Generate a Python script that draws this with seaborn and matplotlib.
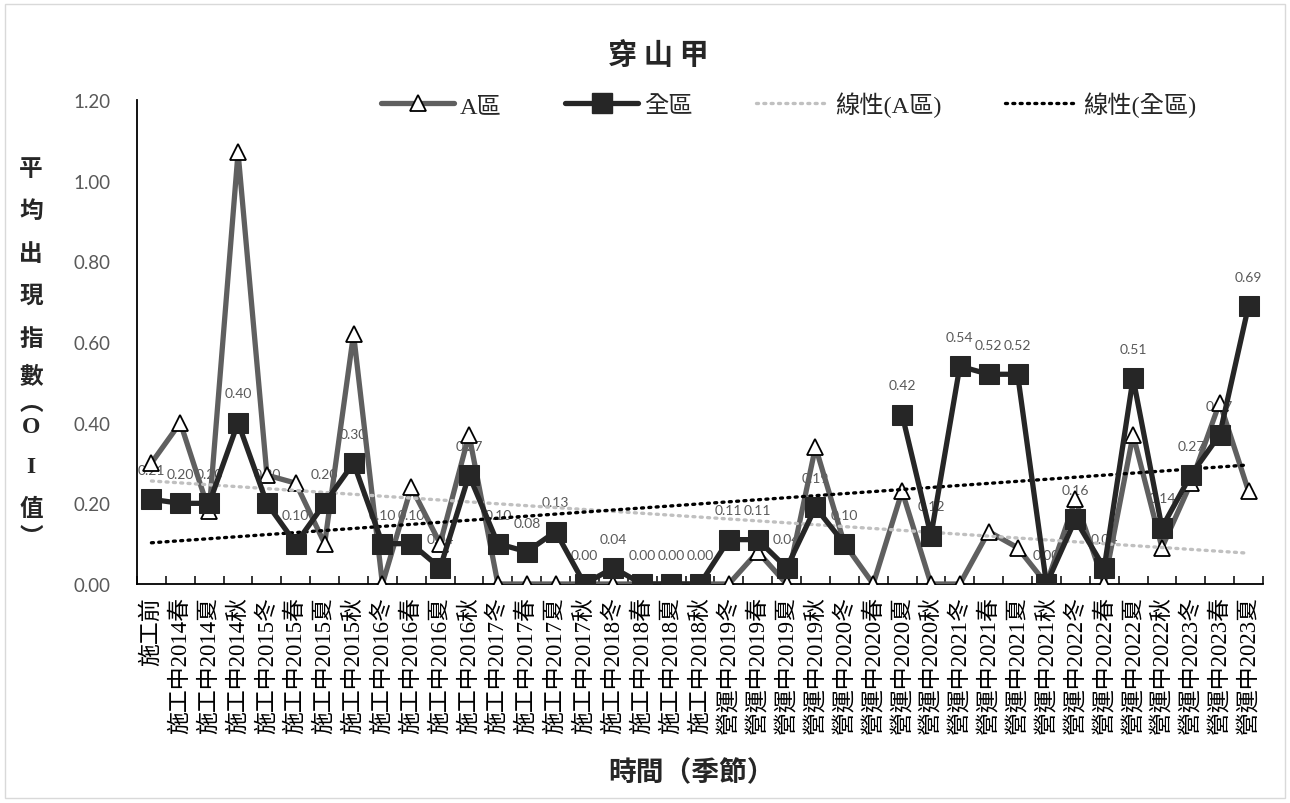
import numpy as np
import pandas as pd
import matplotlib
matplotlib.use('Agg')
import matplotlib.pyplot as plt
from matplotlib.lines import Line2D
from matplotlib.patches import Rectangle
import seaborn as sns

sns.set_theme(style='white')
plt.rcParams['font.family'] = ['Liberation Serif', 'Noto Sans CJK TC', 'DejaVu Sans']

seasons = ['施工前',
           '施工中2014春', '施工中2014夏', '施工中2014秋', '施工中2015冬', '施工中2015春',
           '施工中2015夏', '施工中2015秋', '施工中2016冬', '施工中2016春', '施工中2016夏',
           '施工中2016秋', '施工中2017冬', '施工中2017春', '施工中2017夏', '施工中2017秋',
           '施工中2018冬', '施工中2018春', '施工中2018夏', '施工中2018秋',
           '營運中2019冬', '營運中2019春', '營運中2019夏', '營運中2019秋', '營運中2020冬',
           '營運中2020春', '營運中2020夏', '營運中2020秋', '營運中2021冬', '營運中2021春',
           '營運中2021夏', '營運中2021秋', '營運中2022冬', '營運中2022春', '營運中2022夏',
           '營運中2022秋', '營運中2023冬', '營運中2023春', '營運中2023夏']

area_a = [0.30, 0.40, 0.18, 1.07, 0.27, 0.25, 0.10, 0.62, 0.00, 0.24,
          0.10, 0.37, 0.00, 0.00, 0.00, 0.00, 0.00, 0.00, 0.00, 0.00,
          0.00, 0.08, 0.00, 0.34, 0.10, 0.00, 0.23, 0.00, 0.00, 0.13,
          0.09, 0.00, 0.21, 0.00, 0.37, 0.09, 0.25, 0.45, 0.23]

area_all = [0.21, 0.20, 0.20, 0.40, 0.20, 0.10, 0.20, 0.30, 0.10, 0.10,
            0.04, 0.27, 0.10, 0.08, 0.13, 0.00, 0.04, 0.00, 0.00, 0.00,
            0.11, 0.11, 0.04, 0.19, 0.10, np.nan, 0.42, 0.12, 0.54, 0.52,
            0.52, 0.00, 0.16, 0.04, 0.51, 0.14, 0.27, 0.37, 0.69]

x = np.arange(len(seasons))
df = pd.DataFrame({'x': x, 'a': area_a, 'all': area_all})
# 全區 has a gap (2020春), split into segments so the line breaks there
df['seg'] = df['all'].isna().cumsum()
df_all = df.dropna(subset=['all'])

fig = plt.figure(figsize=(12.9, 8.04), dpi=100)
ax = fig.add_axes([137/1290, 1-585/804, (1263-137)/1290, (585-101)/804])

gray_line = '#5f5f5f'
dark = '#262626'
label_font = ['Liberation Serif', 'Noto Sans CJK TC']

# data labels for 全區 (under the lines)
for xi, v in zip(df_all['x'], df_all['all']):
    ax.annotate(f'{v:.2f}', (xi, v), xytext=(0, 21), textcoords='offset points',
                ha='center', va='center', fontsize=10, color='#595959',
                family=['Lato', 'DejaVu Sans'], zorder=2)

sns.lineplot(data=df, x='x', y='a', ax=ax, color=gray_line, lw=3.8,
             marker='^', markersize=12, markerfacecolor='white',
             markeredgecolor='black', markeredgewidth=1.3, zorder=3)

sns.regplot(data=df, x='x', y='a', ax=ax, scatter=False, ci=None,
            line_kws=dict(color='#c0c0c0', lw=2.4, ls=(0, (0.6, 1.6)),
                          dash_capstyle='round', zorder=4))
sns.regplot(data=df_all, x='x', y='all', ax=ax, scatter=False, ci=None,
            line_kws=dict(color='black', lw=2.4, ls=(0, (0.6, 1.6)),
                          dash_capstyle='round', zorder=4))

sns.lineplot(data=df_all, x='x', y='all', units='seg', estimator=None, ax=ax,
             color=dark, lw=3.8, marker='s', markersize=15,
             markerfacecolor=dark, markeredgecolor=dark, zorder=5)

ax.set_xlim(-0.5, len(seasons) - 0.5)
ax.set_ylim(0, 1.2)
ax.set_xlabel('')
ax.set_ylabel('')

ax.set_xticks(x)
ax.set_xticklabels(seasons, rotation=90, fontsize=16.5, family=label_font)
ax.set_xticks(np.arange(-0.5, len(seasons), 1), minor=True)
ax.tick_params(axis='x', which='major', length=0, pad=9, colors='black')
ax.tick_params(axis='x', which='minor', direction='in', length=6, width=1.1,
               color='black', bottom=True)

ax.set_yticks(np.arange(0, 1.21, 0.2))
ax.set_yticklabels([f'{v:.2f}' for v in np.arange(0, 1.21, 0.2)],
                   fontsize=13.5, color='#595959', family=['Lato', 'DejaVu Sans'])
ax.tick_params(axis='y', length=0, pad=19)

for s in ['top', 'right']:
    ax.spines[s].set_visible(False)
for s in ['left', 'bottom']:
    ax.spines[s].set_color('black')
    ax.spines[s].set_linewidth(1.3)

handles = [
    Line2D([], [], color=gray_line, lw=3.8, marker='^', markersize=12,
           markerfacecolor='white', markeredgecolor='black', markeredgewidth=1.3),
    Line2D([], [], color=dark, lw=3.8, marker='s', markersize=15,
           markerfacecolor=dark, markeredgecolor=dark),
    Line2D([], [], color='#c0c0c0', lw=2.4, ls=(0, (0.6, 1.6)), dash_capstyle='round'),
    Line2D([], [], color='black', lw=2.4, ls=(0, (0.6, 1.6)), dash_capstyle='round'),
]
fig.legend(handles, ['A區', '全區', '線性(A區)', '線性(全區)'],
           loc='center', bbox_to_anchor=(789/1290, 1-105/804), ncol=4,
           frameon=False, handlelength=3.0, columnspacing=2.6, handletextpad=0.25,
           prop={'family': label_font, 'size': 17.5})

fig.text(658/1290, 1-55/804, '穿 山 甲', ha='center', va='center',
         fontsize=21, fontweight='bold', family=['Noto Sans CJK TC', 'DejaVu Sans'])
fig.text(691/1290, 1-773/804, '時間（季節）', ha='center', va='center',
         fontsize=20, fontweight='bold', family=['Noto Sans CJK TC', 'DejaVu Sans'])

ylab_chars = ['平', '均', '出', '現', '指', '數', '︵', 'O', 'I', '值', '︶']
ylab_pos = [170, 212, 255, 297, 340, 378, 404, 428, 468, 510, 540]
for ch, yp in zip(ylab_chars, ylab_pos):
    fig.text(31/1290, 1-yp/804, ch, ha='center', va='center', fontsize=17,
             fontweight='bold', family=['Liberation Serif', 'Noto Sans CJK TC'])

fig.patches.append(Rectangle((5/1290, 5/804), 1-10/1290, 1-10/804,
                             transform=fig.transFigure, fill=False,
                             edgecolor='#d9d9d9', lw=1))

fig.savefig('out.png', dpi=100)
